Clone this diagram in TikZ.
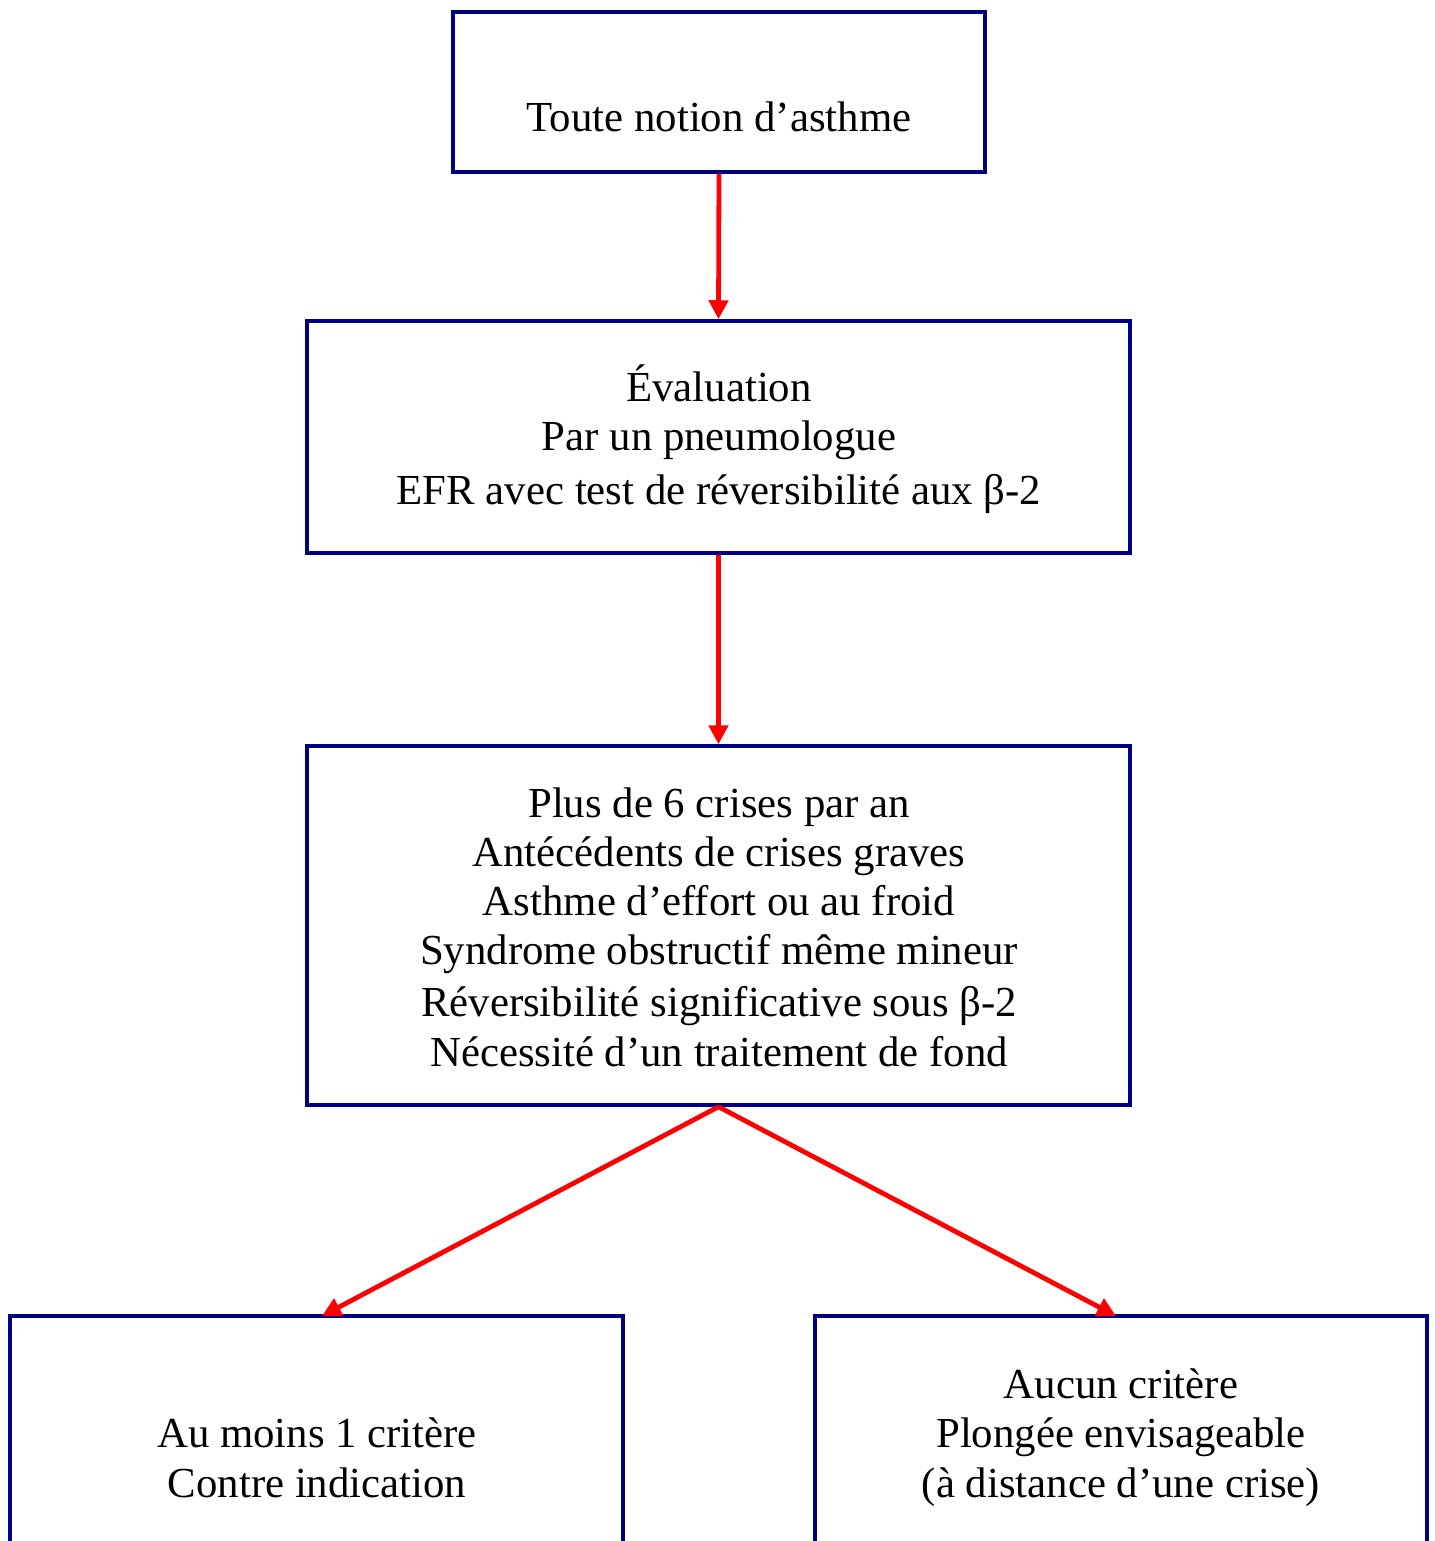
\documentclass[tikz,border=0pt]{standalone}
\usepackage{fontspec}
\setmainfont{Liberation Serif}
\usetikzlibrary{arrows.meta,fit}
\definecolor{navyb}{RGB}{0,0,128}
\begin{document}
\begin{tikzpicture}[x=0.5pt,y=-0.5pt,
  box/.style={draw=navyb,line width=1.75pt,inner sep=0pt,rectangle},
  txt/.style={anchor=base,inner sep=0pt,font=\fontsize{21.4pt}{24.5pt}\selectfont},
  arr/.style={draw=red,line width=2.4pt,-{Triangle[length=9.5pt,width=9.5pt]}}]
\useasboundingbox (0,0) rectangle (1434,1541);
\node[box,fit={(453,12) (985,172)}] (b1) {};
\node[box,fit={(307,321) (1130,553)}] (b2) {};
\node[box,fit={(307,746) (1130,1105)}] (b3) {};
\node[box,fit={(10,1316) (623,1580)}] (b4) {};
\node[box,fit={(815,1316) (1427,1580)}] (b5) {};
\node[txt] (t1) at (719,132) {Toute notion d’asthme};
\node[txt] (t21) at (719,401) {Évaluation};
\node[txt] (t22) at (719,450) {Par un pneumologue};
\node[txt] (t23) at (719,504) {EFR avec test de réversibilité aux β-2};
\node[txt] (t31) at (719,817) {Plus de 6 crises par an};
\node[txt] (t32) at (719,866) {Antécédents de crises graves};
\node[txt] (t33) at (719,915) {Asthme d’effort ou au froid};
\node[txt] (t34) at (719,964) {Syndrome obstructif même mineur};
\node[txt] (t35) at (719,1016) {Réversibilité significative sous β-2};
\node[txt] (t36) at (719,1066) {Nécessité d’un traitement de fond};
\node[txt] (t41) at (317,1447) {Au moins 1 critère};
\node[txt] (t42) at (317,1497) {Contre indication};
\node[txt] (t51) at (1121,1398) {Aucun critère};
\node[txt] (t52) at (1121,1447) {Plongée envisageable};
\node[txt] (t53) at (1121,1497) {(à distance d’une crise)};
\coordinate (e4) at (322,1316);
\coordinate (e5) at (1116,1316);
\draw[arr] (b1.south) -- (b2.north);
\draw[arr] (b2.south) -- (b3.north);
\draw[arr] (b3.south) -- (e4);
\draw[arr] (b3.south) -- (e5);
\end{tikzpicture}
\end{document}
